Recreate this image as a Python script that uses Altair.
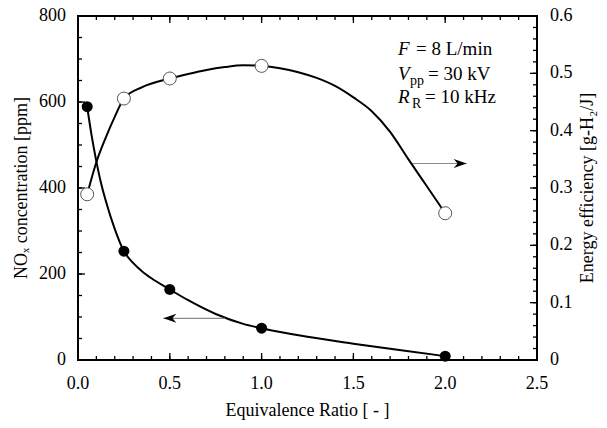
import altair as alt
import pandas as pd

# ---------------- data ----------------
ratio_pts = [0.05, 0.25, 0.5, 1.0, 2.0]
nox_pts = [589, 253, 164, 74, 9]
eff_pts = [0.289, 0.456, 0.491, 0.513, 0.256]

nox_curve_x = [0.05, 0.075, 0.1, 0.125, 0.15, 0.2, 0.25, 0.3, 0.35, 0.4, 0.5, 0.6, 0.75, 0.9, 1.0,
               1.25, 1.5, 1.75, 2.0]
nox_curve_y = [589, 520, 462, 412, 372, 305, 253, 226, 206, 190, 164, 139, 107, 84, 74,
               54, 38, 23, 9]

eff_curve_x = [0.05, 0.1, 0.15, 0.2, 0.25, 0.35, 0.5, 0.6, 0.7, 0.8, 0.9, 1.0, 1.1, 1.2, 1.3,
               1.4, 1.5, 1.6, 1.7, 1.8, 1.9, 2.0]
eff_curve_y = [0.289, 0.345, 0.387, 0.424, 0.456, 0.476, 0.491, 0.499, 0.506, 0.511, 0.514, 0.513,
               0.509, 0.502, 0.492, 0.478, 0.458, 0.434, 0.398, 0.350, 0.303, 0.256]

arrow_tail = [0.80, 1.81]
arrow_tip = [0.465, 2.117]
arrow_level = [97, 457]
arrow_dir = ["left", "right"]

x_major = [0.0, 0.5, 1.0, 1.5, 2.0, 2.5]
x_labels = ["0.0", "0.5", "1.0", "1.5", "2.0", "2.5"]
x_minor = [round(i * 0.1, 1) for i in range(26)]
yl_major = [0, 200, 400, 600, 800]
yl_labels = ["0", "200", "400", "600", "800"]
yl_minor = list(range(0, 801, 50))
yr_major = [0.0, 0.1, 0.2, 0.3, 0.4, 0.5, 0.6]
yr_labels = ["0", "0.1", "0.2", "0.3", "0.4", "0.5", "0.6"]
yr_minor = [round(i * 0.02, 2) for i in range(31)]

x_title = "Equivalence Ratio [ - ]"
yl_title = "NOₓ concentration [ppm]"
yr_title = "Energy efficiency [g-H₂/J]"

anno_lines = [
    [("F", "italic"), ("= 8 L/min", "normal")],
    [("V", "italic"), ("pp", "sub"), ("= 30 kV", "normal")],
    [("R", "italic"), ("R", "sub"), ("= 10 kHz", "normal")],
]
anno_x = 1.743
anno_y = [709, 651, 598]
anno_dx = [[0, 18], [0, 12, 30], [0, 14, 27]]

FONT = "Liberation Serif, Times New Roman, DejaVu Serif, serif"
W, H = 459, 344
MAJOR, MINOR = 7, 4
LABEL_SIZE = 18

df_pts = pd.DataFrame({"ratio": ratio_pts, "nox": nox_pts, "eff": eff_pts})
df_nox = pd.DataFrame({"ratio": nox_curve_x, "nox": nox_curve_y})
df_eff = pd.DataFrame({"ratio": eff_curve_x, "eff": eff_curve_y})
df_arrow = pd.DataFrame({"tail": arrow_tail, "tip": arrow_tip, "nox": arrow_level, "dir": arrow_dir})

xs = alt.Scale(domain=[0, 2.5], nice=False, zero=False)
yl = alt.Scale(domain=[0, 800], nice=False)
yr = alt.Scale(domain=[0, 0.6], nice=False)


def X(field):
    return alt.X(field, scale=xs, axis=None)


def YL(field):
    return alt.Y(field, scale=yl, axis=None)


def YR(field):
    return alt.Y(field, scale=yr, axis=None)


def tick_layer(values, side, length):
    df = pd.DataFrame({"tickval": values})
    if side == "bottom":
        enc = dict(x=X("tickval:Q"), y=alt.value(H), y2=alt.value(H - length))
    elif side == "top":
        enc = dict(x=X("tickval:Q"), y=alt.value(0), y2=alt.value(length))
    elif side == "left":
        enc = dict(y=YL("tickval:Q"), x=alt.value(0), x2=alt.value(length))
    else:
        enc = dict(y=YR("tickval:Q"), x=alt.value(W), x2=alt.value(W - length))
    return alt.Chart(df).mark_rule(color="black", strokeWidth=1.3).encode(**enc)


def label_layer(values, labels, side):
    df = pd.DataFrame({"tickval": values, "label": labels})
    base = dict(font=FONT, fontSize=LABEL_SIZE, color="black", baseline="middle")
    if side == "bottom":
        mk = alt.Chart(df).mark_text(align="center", **base)
        enc = dict(x=X("tickval:Q"), y=alt.value(H + 24))
    elif side == "left":
        mk = alt.Chart(df).mark_text(align="right", **base)
        enc = dict(y=YL("tickval:Q"), x=alt.value(-12))
    else:
        mk = alt.Chart(df).mark_text(align="left", **base)
        enc = dict(y=YR("tickval:Q"), x=alt.value(W + 13))
    return mk.encode(text="label:N", **enc)


def title_layer(text, px, py, angle=0):
    props = dict(font=FONT, fontSize=LABEL_SIZE, color="black", align="center", baseline="middle")
    if angle:
        props["angle"] = angle
    return alt.Chart(pd.DataFrame({"t": [text]})).mark_text(**props).encode(
        x=alt.value(px), y=alt.value(py), text="t:N")


# ---------- NOx (left scale) group ----------
nox_line = alt.Chart(df_nox).mark_line(color="black", strokeWidth=2, interpolate="monotone").encode(
    x=X("ratio:Q"), y=YL("nox:Q"),
)
nox_mark = alt.Chart(df_pts).mark_circle(size=121, color="black", opacity=1).encode(
    x=X("ratio:Q"), y=YL("nox:Q"),
)
arrow_line = alt.Chart(df_arrow).mark_rule(color="#8a8a8a", strokeWidth=1.2).encode(
    x=X("tail:Q"), x2="tip:Q", y=YL("nox:Q"),
)
path_left = "M 0 0 L 2 -0.7 L 1.4 0 L 2 0.7 Z"
path_right = "M 0 0 L -2 -0.7 L -1.4 0 L -2 0.7 Z"
arrow_head = alt.Chart(df_arrow).mark_point(filled=True, color="black", opacity=1, size=169).encode(
    x=X("tip:Q"), y=YL("nox:Q"),
    shape=alt.Shape("dir:N", scale=alt.Scale(domain=["left", "right"], range=[path_left, path_right]),
                    legend=None),
)

texts = []
for line, yv, dxs in zip(anno_lines, anno_y, anno_dx):
    for (txt, style), dx in zip(line, dxs):
        props = dict(align="left", baseline="alphabetic", font=FONT, color="black", dx=dx)
        if style == "italic":
            props.update(fontStyle="italic", fontSize=19)
        elif style == "sub":
            props.update(fontSize=14, dy=5)
        else:
            props.update(fontSize=19)
        texts.append(
            alt.Chart(pd.DataFrame({"ratio": [anno_x], "nox": [yv], "t": [txt]})).mark_text(**props).encode(
                x=X("ratio:Q"), y=YL("nox:Q"), text="t:N",
            )
        )

left_group = alt.layer(
    nox_line,
    tick_layer(x_major, "bottom", MAJOR),
    tick_layer(x_minor, "bottom", MINOR),
    tick_layer(x_major, "top", MAJOR),
    tick_layer(x_minor, "top", MINOR),
    tick_layer(yl_major, "left", MAJOR),
    tick_layer(yl_minor, "left", MINOR),
    label_layer(x_major, x_labels, "bottom"),
    label_layer(yl_major, yl_labels, "left"),
    title_layer(x_title, W / 2, H + 51),
    title_layer(yl_title, -56, H / 2, angle=270),
    arrow_line, arrow_head, nox_mark, *texts,
)

# ---------- energy efficiency (right scale) group ----------
eff_line = alt.Chart(df_eff).mark_line(color="black", strokeWidth=2, interpolate="monotone").encode(
    x=X("ratio:Q"), y=YR("eff:Q"),
)
eff_mark = alt.Chart(df_pts).mark_circle(size=169, fill="white", stroke="#555", strokeWidth=1,
                                         opacity=1, fillOpacity=1).encode(
    x=X("ratio:Q"), y=YR("eff:Q"),
)
right_group = alt.layer(
    eff_line,
    tick_layer(yr_major, "right", MAJOR),
    tick_layer(yr_minor, "right", MINOR),
    label_layer(yr_major, yr_labels, "right"),
    title_layer(yr_title, W + 51, H / 2, angle=270),
    eff_mark,
)

chart = alt.layer(left_group, right_group).resolve_scale(
    y="independent"
).properties(
    width=W, height=H,
    padding={"left": 78, "top": 16, "right": 70, "bottom": 68},
    autosize=alt.AutoSizeParams(type="none"),
).configure_view(
    stroke="black", strokeWidth=2
)

chart.save("out.html", embed_options={"renderer": "svg", "actions": False})
